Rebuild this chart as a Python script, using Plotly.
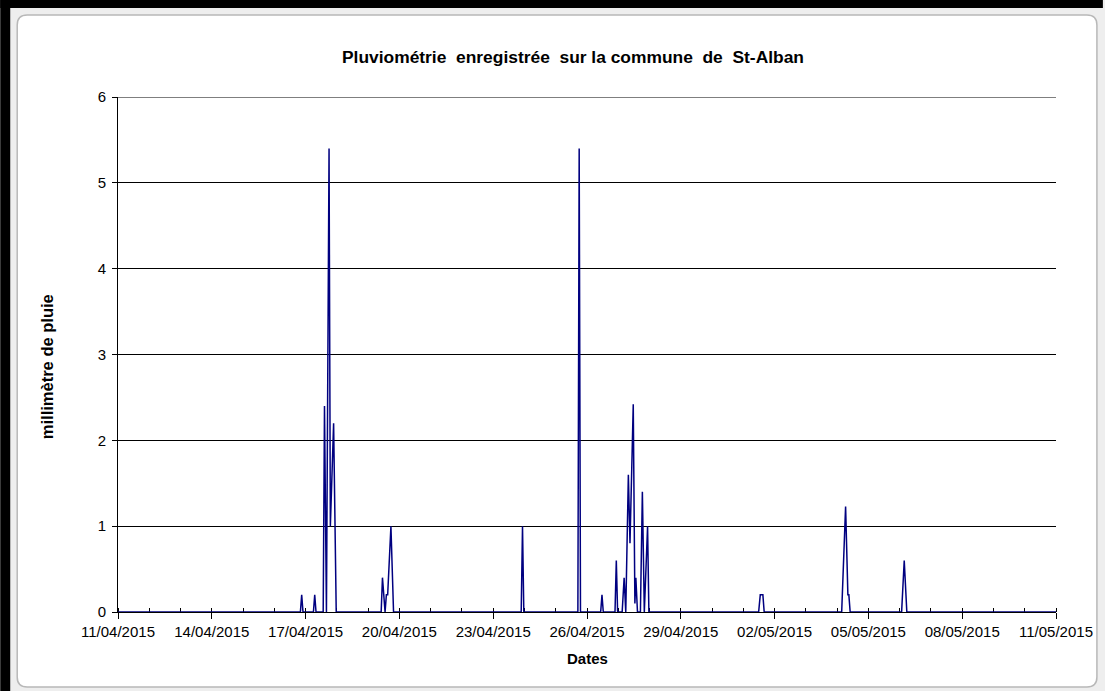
import plotly.graph_objects as go

# ---- data (rainfall, mm) ----
times = [
    "2015-04-11 00:00",
    "2015-04-16 20:00", "2015-04-16 21:00", "2015-04-16 22:00",
    "2015-04-17 06:00", "2015-04-17 07:00", "2015-04-17 08:00",
    "2015-04-17 13:30", "2015-04-17 14:30", "2015-04-17 16:00", "2015-04-17 18:00",
    "2015-04-17 19:00", "2015-04-17 21:30", "2015-04-17 23:30",
    "2015-04-19 10:00", "2015-04-19 11:00", "2015-04-19 13:00", "2015-04-19 14:00",
    "2015-04-19 15:00", "2015-04-19 17:30", "2015-04-19 19:30",
    "2015-04-23 21:30", "2015-04-23 22:30", "2015-04-23 23:30",
    "2015-04-25 17:00", "2015-04-25 18:00", "2015-04-25 19:00",
    "2015-04-26 10:30", "2015-04-26 11:30", "2015-04-26 12:30",
    "2015-04-26 21:30", "2015-04-26 22:30", "2015-04-26 23:30",
    "2015-04-27 03:00", "2015-04-27 04:30", "2015-04-27 05:45", "2015-04-27 07:45",
    "2015-04-27 09:00", "2015-04-27 11:30", "2015-04-27 12:45", "2015-04-27 13:30",
    "2015-04-27 14:45", "2015-04-27 17:00", "2015-04-27 18:30", "2015-04-27 20:00",
    "2015-04-27 22:30", "2015-04-27 23:30",
    "2015-05-01 11:45", "2015-05-01 13:00", "2015-05-01 15:00", "2015-05-01 16:00",
    "2015-05-04 03:30", "2015-05-04 06:30", "2015-05-04 08:15", "2015-05-04 09:00",
    "2015-05-04 10:00",
    "2015-05-06 01:30", "2015-05-06 03:30", "2015-05-06 05:30",
    "2015-05-11 00:00",
]
rain = [
    0,
    0, 0.2, 0,
    0, 0.2, 0,
    0, 2.4, 0, 5.4,
    1.0, 2.2, 0,
    0, 0.4, 0, 0.2,
    0.2, 1.0, 0,
    0, 1.0, 0,
    0, 5.4, 0,
    0, 0.2, 0,
    0, 0.6, 0,
    0, 0.4, 0, 1.6,
    0.8, 2.42, 0.1, 0.4,
    0, 0, 1.4, 0,
    1.0, 0,
    0, 0.2, 0.2, 0,
    0, 1.23, 0.2, 0.2,
    0,
    0, 0.6, 0,
    0,
]
x_range = ["2015-04-11", "2015-05-11"]
y_ticks = [0, 1, 2, 3, 4, 5, 6]

title_text = "Pluviométrie\u00a0\u00a0enregistrée\u00a0\u00a0sur la commune\u00a0\u00a0de\u00a0\u00a0St-Alban"
y_title = "millimètre de pluie"
x_title = "Dates"

FONT = "Arial, 'Liberation Sans', sans-serif"
W, H = 1105, 691
L, R, T, B = 118, 1058, 97, 612


def px(v):
    return (v - L) / (R - L)


def py(v):
    return (B - v) / (B - T)


fig = go.Figure()
fig.add_trace(go.Scatter(
    x=times, y=rain, mode="lines",
    line=dict(color="#000080", width=1.5),
    hoverinfo="x+y", showlegend=False,
))


def rounded_rect(x0, y0, x1, y1, r):
    rx = r / (R - L)
    ry = r / (B - T)
    X0, X1 = px(x0), px(x1)
    Y0, Y1 = py(y0), py(y1)  # Y0 top (larger), Y1 bottom
    return (f"M {X0+rx},{Y0} L {X1-rx},{Y0} Q {X1},{Y0} {X1},{Y0-ry} "
            f"L {X1},{Y1+ry} Q {X1},{Y1} {X1-rx},{Y1} "
            f"L {X0+rx},{Y1} Q {X0},{Y1} {X0},{Y1+ry} "
            f"L {X0},{Y0-ry} Q {X0},{Y0} {X0+rx},{Y0} Z")


shapes = [
    dict(type="path", xref="paper", yref="paper", layer="below",
         path=rounded_rect(17, 15, 1099, 687, 10),
         fillcolor="white", line=dict(color="#b8b8b8", width=1.5)),
    dict(type="rect", xref="paper", yref="paper", layer="below",
         x0=px(0), x1=px(10), y0=py(691), y1=py(0),
         fillcolor="black", line=dict(width=0)),
    dict(type="rect", xref="paper", yref="paper", layer="below",
         x0=px(0), x1=px(1105), y0=py(8), y1=py(0),
         fillcolor="black", line=dict(width=0)),
    # top gridline at the axis maximum
    dict(type="line", xref="paper", yref="y", layer="below",
         x0=0, x1=1, y0=y_ticks[-1], y1=y_ticks[-1],
         line=dict(color="black", width=1)),
]

annotations = [
    dict(text=f"<b>{title_text}</b>", x=px(574), y=py(57), xref="paper", yref="paper",
         showarrow=False, xanchor="center", yanchor="middle",
         font=dict(family=FONT, size=17.4, color="black")),
    dict(text=f"<b>{y_title}</b>", x=px(47), y=py(367), xref="paper", yref="paper",
         showarrow=False, xanchor="center", yanchor="middle", textangle=-90,
         font=dict(family=FONT, size=16.5, color="black")),
    dict(text=f"<b>{x_title}</b>", x=px(589), y=py(658), xref="paper", yref="paper",
         showarrow=False, xanchor="center", yanchor="middle",
         font=dict(family=FONT, size=15, color="black")),
]

fig.update_layout(
    width=W, height=H, autosize=False,
    margin=dict(l=L, r=W - R, t=T, b=H - B, pad=0),
    paper_bgcolor="#eeeeee",
    plot_bgcolor="rgba(0,0,0,0)",
    shapes=shapes,
    annotations=annotations,
    showlegend=False,
    font=dict(family=FONT, size=15, color="black"),
)

fig.update_xaxes(
    type="date", range=x_range,
    tick0="2015-04-11", dtick=3 * 86400000, tickformat="%d/%m/%Y",
    ticks="outside", ticklen=6, tickcolor="black", tickwidth=1,
    showline=True, linecolor="black", linewidth=1,
    showgrid=False, zeroline=False, layer="below traces",
    tickfont=dict(family=FONT, size=15, color="black"),
    minor=dict(dtick=86400000, tick0="2015-04-11", ticks="inside", ticklen=4,
               tickcolor="black", tickwidth=1, showgrid=False),
)
fig.update_yaxes(
    range=[0, 6], tickvals=y_ticks, ticktext=[str(v) for v in y_ticks],
    ticks="outside", ticklen=5, tickcolor="black", tickwidth=1,
    showline=True, linecolor="black", linewidth=1,
    showgrid=True, gridcolor="black", gridwidth=1,
    zeroline=False, layer="below traces", ticklabelstandoff=3,
    tickfont=dict(family=FONT, size=15, color="black"),
)

fig.write_html(
    "out.html",
    config={"displayModeBar": False},
    post_script="document.body.style.margin='0px';document.body.style.overflow='hidden';",
)
